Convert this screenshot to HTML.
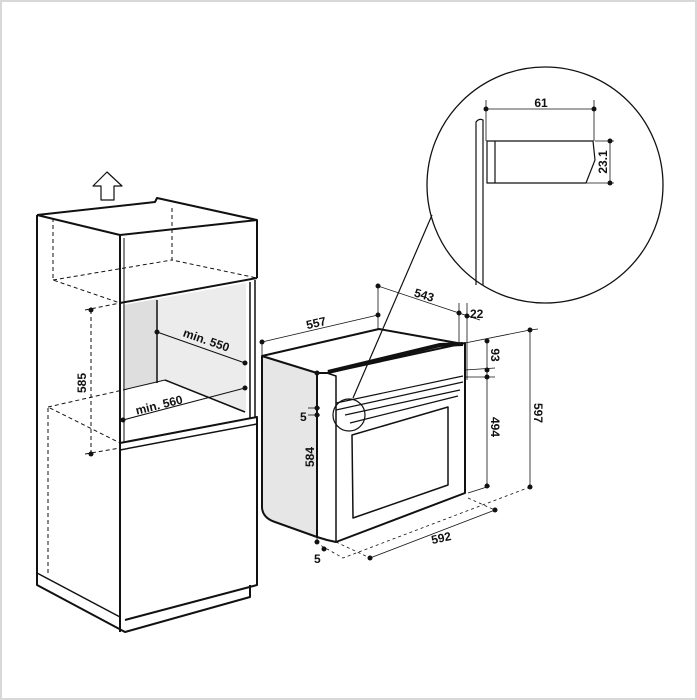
<!DOCTYPE html>
<html><head><meta charset="utf-8"><style>
html,body{margin:0;padding:0;background:#fff}
svg{display:block}
text{font-family:"Liberation Sans",sans-serif;font-weight:bold;font-size:12px;fill:#111}
</style></head><body>
<svg width="697" height="700" viewBox="0 0 697 700" xmlns="http://www.w3.org/2000/svg">
<rect x="1" y="1" width="695" height="698" fill="#fff" stroke="#d8d8d8" stroke-width="2"/>
<g fill="none" stroke="#111" stroke-linejoin="round">
<!-- arrow -->
<path d="M107,172 L122,186 L114,186 L114,200 L101,200 L101,186 L93,186 Z" stroke-width="1.2"/>
<!-- cabinet gray interior -->
<polygon points="157,299 246,283 246,412 165,380 157,383" fill="#ececec" stroke="none"/>
<polygon points="123,305 157,299 157,383 123,390" fill="#dedede" stroke="none"/>
<line x1="157" y1="300" x2="157" y2="383" stroke-width="1.5"/>
<line x1="165" y1="380" x2="245" y2="412" stroke-width="1.5"/>
<line x1="165" y1="380" x2="123" y2="390" stroke-width="1"/>
<!-- cabinet outline -->
<path d="M37,215 L155,202 L157,198 L257,220 L257,278" stroke-width="2"/>
<path d="M37,215 L120,235 L257,220" stroke-width="2"/>
<path d="M120,235 L120,632" stroke-width="2"/>
<path d="M124,238 L124,443" stroke-width="1"/>
<path d="M120,303 L257,278" stroke-width="2"/>
<path d="M37,215 L37,585 L125,632 L250,597 L250,585" stroke-width="2"/>
<path d="M37,573 L120,617" stroke-width="1.5"/>
<path d="M250,282 L250,418 M255,280 L255,418" stroke-width="1.5"/>
<path d="M120,443 L257,417 L257,585 L125,620" stroke-width="2"/>
<path d="M120,450 L257,424" stroke-width="1.5"/>
<!-- dashed -->
<g stroke-dasharray="4,3" stroke-width="1">
<path d="M53,218 L53,280 L120,303"/>
<path d="M172,208 L172,260 L257,278"/>
<path d="M53,280 L172,260"/>
<path d="M48,573 L48,407 L120,443"/>
<path d="M48,407 L123,390"/>
<path d="M85,310 L120,303 M85,454 L120,448"/>
<path d="M91,310 L91,454"/>
</g>
<!-- min dims -->
<line x1="157" y1="332" x2="245" y2="363" stroke-width="1"/>
<line x1="123" y1="420" x2="245" y2="388" stroke-width="1"/>
<!-- oven -->
<path d="M262,356 L262,508 Q263,518 275,522 L317,537 L317,373 Z" fill="#e6e6e6" stroke-width="2"/>
<path d="M262,356 L379,329 L463,344" stroke-width="2"/>
<path d="M262,342 L262,356" stroke-width="0.8"/>
<path d="M317,373 L327,373 L465,343 L465,493 L336,542 L327,540 L317,537" stroke-width="2"/>
<path d="M327,373 L336,376 L336,542" stroke-width="1.5"/>
<path d="M328,372 L440,345 L463,344" stroke-width="4"/>
<path d="M336,403 L463,376 M336,410 L463,382 M345,415 L460,390 M350,423 L458,396" stroke-width="1.2"/>
<polygon points="352,435 448,407 448,485 353,518" stroke-width="1.5"/>
<circle cx="349" cy="415" r="16" stroke-width="1.2" fill="none"/>
<line x1="432" y1="215" x2="353" y2="398" stroke-width="1.2"/>
<!-- magnifier -->
<circle cx="545" cy="185" r="118" stroke-width="1.3"/>
<path d="M476,285 L476,122 Q479,118 483,120 L483,285" stroke-width="1.2"/>
<polygon points="487,141 593,141 595,160 586,183 487,183" stroke-width="1.2"/>
<line x1="495" y1="141" x2="495" y2="183" stroke-width="1.2"/>
<!-- dimension lines -->
<g stroke-width="0.8">
<line x1="486" y1="109" x2="594" y2="109"/><line x1="486" y1="100" x2="486" y2="141"/><line x1="594" y1="100" x2="594" y2="141"/>
<line x1="610" y1="141" x2="610" y2="183"/><line x1="595" y1="141" x2="614" y2="141"/><line x1="586" y1="183" x2="614" y2="183"/>
<line x1="262" y1="342" x2="378" y2="315"/>
<line x1="378" y1="286" x2="378" y2="329"/>
<line x1="378" y1="286" x2="480" y2="320"/>
<line x1="459" y1="303" x2="459" y2="342"/><line x1="467" y1="303" x2="467" y2="380"/>
<line x1="465" y1="343" x2="530" y2="330"/><line x1="465" y1="370" x2="495" y2="368"/><line x1="465" y1="377" x2="495" y2="377"/>
<line x1="487" y1="341" x2="487" y2="486"/>
<line x1="530" y1="330" x2="530" y2="487"/><line x1="530" y1="330" x2="538" y2="329"/>
<line x1="468" y1="493" x2="490" y2="486"/>
<line x1="317" y1="373" x2="317" y2="542"/><line x1="308" y1="408" x2="320" y2="408"/><line x1="308" y1="415" x2="320" y2="415"/>
<line x1="370" y1="558" x2="495" y2="510"/>
</g>
<g stroke-dasharray="3,3" stroke-width="0.8">
<path d="M468,498 L497,511"/><path d="M336,542 L370,558"/><path d="M530,487 L343,558 L320,545"/>
</g>
</g>
<!-- dots -->
<g fill="#111">
<circle cx="486" cy="109" r="2.5"/><circle cx="594" cy="109" r="2.5"/>
<circle cx="610" cy="141" r="2.5"/><circle cx="610" cy="183" r="2.5"/>
<circle cx="262" cy="342" r="2.5"/><circle cx="378" cy="315" r="2.5"/>
<circle cx="378" cy="286" r="2.5"/><circle cx="459" cy="313" r="2.5"/><circle cx="467" cy="316" r="2.5"/>
<circle cx="487" cy="341" r="2.5"/><circle cx="487" cy="370" r="2.5"/><circle cx="487" cy="377" r="2.5"/><circle cx="487" cy="486" r="2.5"/>
<circle cx="530" cy="330" r="2.5"/><circle cx="530" cy="487" r="2.5"/>
<circle cx="495" cy="510" r="2.5"/><circle cx="370" cy="558" r="2.5"/>
<circle cx="317" cy="373" r="2.5"/><circle cx="317" cy="408" r="2.5"/><circle cx="317" cy="415" r="2.5"/>
<circle cx="317" cy="542" r="2.5"/><circle cx="324" cy="549" r="2.5"/>
<circle cx="91" cy="310" r="2.5"/><circle cx="91" cy="454" r="2.5"/>
<circle cx="157" cy="332" r="2.5"/><circle cx="245" cy="363" r="2.5"/>
<circle cx="123" cy="420" r="2.5"/><circle cx="245" cy="388" r="2.5"/>
</g>
<!-- labels -->
<text x="541" y="107" text-anchor="middle">61</text>
<text transform="translate(607,162) rotate(-90)" text-anchor="middle">23.1</text>
<text transform="translate(317,327) rotate(-13)" text-anchor="middle">557</text>
<text transform="translate(423,299) rotate(17)" text-anchor="middle">543</text>
<text x="470" y="318">22</text>
<text transform="translate(491,355) rotate(90)" text-anchor="middle">93</text>
<text transform="translate(491,427) rotate(90)" text-anchor="middle">494</text>
<text transform="translate(534,413) rotate(90)" text-anchor="middle">597</text>
<text transform="translate(442,542) rotate(-12)" text-anchor="middle">592</text>
<text transform="translate(314,457) rotate(-90)" text-anchor="middle">584</text>
<text x="300" y="421">5</text>
<text x="314" y="563">5</text>
<text transform="translate(86,383) rotate(-90)" text-anchor="middle">585</text>
<text transform="translate(205,344) rotate(19)" text-anchor="middle">min. 550</text>
<text transform="translate(160,409) rotate(-14)" text-anchor="middle">min. 560</text>
</svg>
</body></html>
